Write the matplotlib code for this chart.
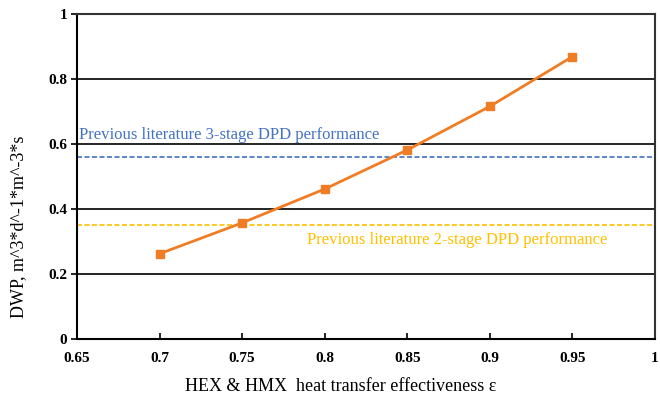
import matplotlib
matplotlib.use("Agg")
import matplotlib.pyplot as plt

# Water productivity versus heat exchanger effectiveness
effectiveness = [0.70, 0.75, 0.80, 0.85, 0.90, 0.95]
dwp = [0.263, 0.358, 0.462, 0.582, 0.716, 0.869]

# Reference levels from earlier studies
ref_3stage = 0.56
ref_2stage = 0.35
label_3stage = "Previous literature 3-stage DPD performance"
label_2stage = "Previous literature 2-stage DPD performance"

x_ticks = [0.65, 0.7, 0.75, 0.8, 0.85, 0.9, 0.95, 1.0]
x_tick_labels = ["0.65", "0.7", "0.75", "0.8", "0.85", "0.9", "0.95", "1"]
y_ticks = [0, 0.2, 0.4, 0.6, 0.8, 1.0]
y_tick_labels = ["0", "0.2", "0.4", "0.6", "0.8", "1"]

ORANGE = "#F07C24"
BLUE = "#4472C4"
GOLD = "#FFC000"

plt.rcParams["font.family"] = ["Liberation Serif", "DejaVu Serif"]

fig = plt.figure(figsize=(6.6, 3.99), dpi=100)
ax = fig.add_axes([0.1167, 0.1496, 0.8757, 0.8153])

ax.set_xlim(0.65, 1.0)
ax.set_ylim(0, 1.0)

ax.set_yticks(y_ticks)
ax.set_yticklabels(y_tick_labels, fontweight="bold", fontsize=11)
ax.set_xticks(x_ticks)
ax.set_xticklabels(x_tick_labels, fontweight="bold", fontsize=11)
ax.tick_params(axis="x", direction="in", length=4, width=1.2, pad=9)
ax.tick_params(axis="y", direction="out", length=4, width=1.2, pad=3)

ax.grid(axis="y", color="black", linewidth=1.2)
ax.set_axisbelow(True)
for side, sp in ax.spines.items():
    sp.set_linewidth(1.5)
    sp.set_color("black" if side in ("left", "bottom") else "#333333")

ax.axhline(ref_3stage, color=BLUE, linestyle=(0, (3, 1.5)), linewidth=1.2)
ax.axhline(ref_2stage, color=GOLD, linestyle=(0, (3, 1.5)), linewidth=1.2)

ax.plot(effectiveness, dwp, color=ORANGE, linewidth=2, marker="s",
        markersize=5.5, zorder=5)

ax.text(0.651, 0.628, label_3stage, color=BLUE, fontsize=12, va="center")
ax.text(0.789, 0.305, label_2stage, color=GOLD, fontsize=12, va="center")

ax.set_xlabel("HEX & HMX  heat transfer effectiveness \u03b5", fontsize=13)
ax.xaxis.set_label_coords(0.457, -0.119)
ax.set_ylabel("DWP, m^3*d^-1*m^-3*s", fontsize=13)
ax.yaxis.set_label_coords(-0.086, 0.345)

fig.savefig("out.png", dpi=100)
